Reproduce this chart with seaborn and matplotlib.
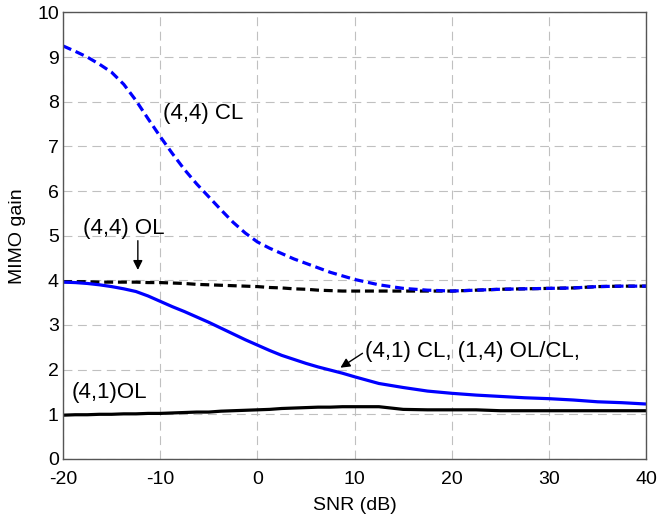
import pandas as pd
import matplotlib
matplotlib.use("Agg")
import matplotlib.pyplot as plt
import seaborn as sns

# SNR grid (dB): finer steps where the curves bend
snr = [-20, -18.75, -17.5, -16.25, -15, -13.75, -12.5, -11.25, -10, -8.75, -7.5, -6.25, -5,
       -3.75, -2.5, -1.25, 0, 1.25, 2.5, 3.75, 5, 6.25, 7.5, 8.75, 10,
       12.5, 15, 17.5, 20, 22.5, 25, 27.5, 30, 32.5, 35, 37.5, 40]

# MIMO gain curves
cl44 = [9.25, 9.13, 9.0, 8.84, 8.66, 8.39, 8.03, 7.62, 7.22, 6.84, 6.48, 6.16, 5.87,
        5.58, 5.3, 5.06, 4.86, 4.72, 4.6, 4.48, 4.38, 4.28, 4.18, 4.1, 4.02,
        3.9, 3.82, 3.78, 3.76, 3.78, 3.8, 3.81, 3.82, 3.83, 3.86, 3.87, 3.87]
ol44 = [3.97, 3.97, 3.97, 3.96, 3.96, 3.96, 3.96, 3.95, 3.95, 3.94, 3.93, 3.91, 3.9,
        3.89, 3.88, 3.87, 3.86, 3.84, 3.83, 3.81, 3.8, 3.78, 3.77, 3.76, 3.76,
        3.76, 3.76, 3.76, 3.76, 3.78, 3.8, 3.81, 3.82, 3.83, 3.86, 3.87, 3.87]
cl41 = [3.96, 3.95, 3.93, 3.9, 3.86, 3.81, 3.75, 3.65, 3.53, 3.41, 3.3, 3.18, 3.06,
        2.93, 2.8, 2.67, 2.55, 2.43, 2.32, 2.23, 2.14, 2.06, 1.99, 1.92, 1.84,
        1.69, 1.6, 1.52, 1.47, 1.43, 1.4, 1.37, 1.35, 1.32, 1.28, 1.26, 1.23]
ol41 = [0.98, 0.99, 0.99, 1.0, 1.0, 1.01, 1.01, 1.02, 1.02, 1.03, 1.04, 1.05, 1.05,
        1.07, 1.08, 1.09, 1.1, 1.11, 1.13, 1.14, 1.15, 1.16, 1.16, 1.17, 1.17,
        1.17, 1.11, 1.1, 1.1, 1.1, 1.08, 1.08, 1.08, 1.08, 1.08, 1.08, 1.08]

df = pd.DataFrame({"snr": snr, "cl44": cl44, "ol44": ol44, "cl41": cl41, "ol41": ol41})

sns.set_style("white")
plt.rcParams["font.family"] = ["Liberation Sans", "DejaVu Sans"]
plt.rcParams["axes.unicode_minus"] = False

fig = plt.figure(figsize=(6.59, 5.18), dpi=100)
ax = fig.add_axes([0.0956, 0.114, 0.885, 0.862])

sns.lineplot(data=df, x="snr", y="ol41", ax=ax, color="black", lw=2.3)
sns.lineplot(data=df, x="snr", y="ol44", ax=ax, color="black", lw=2.3)
ax.lines[-1].set_dashes([2.8, 1.5])
sns.lineplot(data=df, x="snr", y="cl41", ax=ax, color="#0000ff", lw=2.3)
sns.lineplot(data=df, x="snr", y="cl44", ax=ax, color="#0000ff", lw=2.3)
ax.lines[-1].set_dashes([2.8, 1.5])

ax.set_xlim(-20, 40)
ax.set_ylim(0, 10)
ax.set_xticks(range(-20, 41, 10))
ax.set_yticks(range(0, 11))
ax.grid(True, color="#c0c0c0", linestyle=(0, (8, 5)), lw=0.8)
for s in ax.spines.values():
    s.set_color("#555555")
    s.set_linewidth(1.0)
ax.tick_params(direction="in", length=4, labelsize=14, color="#555555",
               labelcolor="black")
ax.tick_params(axis="x", pad=9)
ax.tick_params(axis="y", pad=3)
ax.set_xlabel("SNR (dB)", fontsize=14, labelpad=6, color="black")
ax.set_ylabel("MIMO gain", fontsize=14, labelpad=8, color="black")

ax.text(-9.7, 7.73, "(4,4) CL", fontsize=16, va="center", color="black")
ax.text(-17.9, 5.17, "(4,4) OL", fontsize=16, va="center", color="black")
ax.annotate("", xy=(-12.3, 4.17), xytext=(-12.3, 4.95),
            arrowprops=dict(arrowstyle="-|>", color="black", lw=1, mutation_scale=14))
ax.text(11.1, 2.4, "(4,1) CL, (1,4) OL/CL,", fontsize=16, va="center", color="black")
ax.annotate("", xy=(8.3, 2.01), xytext=(11.05, 2.4),
            arrowprops=dict(arrowstyle="-|>", color="black", lw=1, mutation_scale=14))
ax.text(-19.1, 1.48, "(4,1)OL", fontsize=16, va="center", color="black")

fig.savefig("out.png", dpi=100)
